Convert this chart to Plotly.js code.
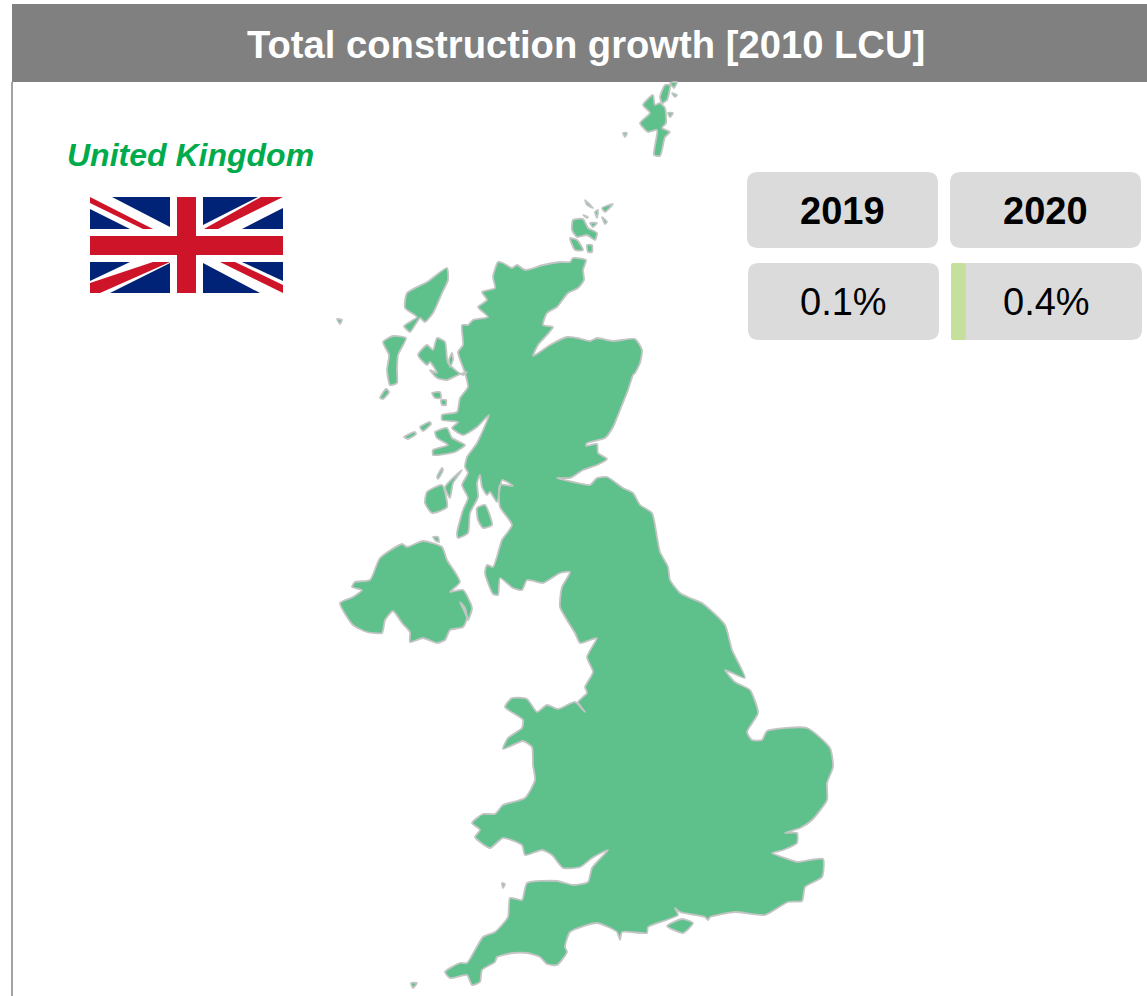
<!DOCTYPE html>
<html>
<head>
<meta charset="utf-8">
<script src="https://cdn.plot.ly/plotly-3.0.1.min.js"></script>
<style>html,body{margin:0;padding:0;background:#fff}#chart{width:1147px;height:996px}</style>
</head>
<body>
<div id="chart"></div>
<script>
const chartTitle = "Total construction growth [2010 LCU]";
const countryName = "United Kingdom";
const years = ["2019", "2020"];
const growthValues = ["0.1%", "0.4%"];

const greatBritain = [[498,262],[503,263],[512,268],[517,265],[525,270],[543,265],[560,262],[570,262],[573,258],[586,260],[583,270],[584,280],[578,288],[568,293],[557,307],[547,313],[543,325],[553,327],[545,337],[538,345],[533,356],[550,345],[567,337],[577,338],[590,341],[597,338],[613,341],[635,339],[642,350],[640,363],[635,373],[633,375],[628,390],[620,410],[613,427],[605,438],[587,443],[586,446],[597,444],[598,453],[607,459],[597,465],[583,470],[570,478],[557,478],[573,482],[590,485],[597,478],[607,477],[623,488],[633,493],[640,505],[652,513],[657,537],[660,552],[668,567],[670,580],[680,593],[690,598],[702,603],[725,625],[732,650],[745,678],[725,670],[735,682],[750,690],[758,713],[747,732],[752,740],[762,740],[767,731],[807,728],[830,748],[833,767],[827,783],[827,800],[812,820],[800,828],[785,833],[797,833],[797,843],[783,850],[772,853],[782,857],[797,862],[823,859],[822,877],[805,887],[802,901],[788,902],[765,915],[735,912],[710,917],[708,920],[705,917],[680,912],[675,908],[678,915],[648,927],[647,933],[622,932],[620,940],[617,932],[597,923],[570,932],[565,947],[567,952],[557,965],[547,964],[540,957],[527,953],[513,953],[497,957],[495,962],[482,970],[480,982],[472,985],[467,975],[450,978],[445,972],[460,963],[467,963],[483,937],[495,932],[508,917],[510,898],[522,900],[527,883],[557,881],[573,885],[588,882],[592,868],[608,850],[603,852],[592,858],[580,867],[563,868],[552,855],[542,850],[525,855],[522,845],[503,838],[490,848],[475,837],[480,830],[472,823],[483,814],[495,814],[503,805],[525,798],[535,780],[533,765],[532,747],[523,741],[503,749],[508,738],[522,728],[523,720],[505,707],[512,698],[527,699],[537,712],[547,705],[558,709],[575,702],[585,712],[578,702],[587,693],[585,687],[593,672],[587,657],[597,638],[590,640],[580,643],[575,633],[560,607],[562,587],[570,572],[560,573],[543,583],[527,580],[522,590],[513,588],[500,578],[498,595],[493,594],[485,573],[487,565],[493,567],[502,540],[512,525],[500,507],[500,485],[513,486],[502,480],[497,502],[490,492],[487,495],[482,487],[480,475],[477,483],[478,497],[470,513],[468,533],[458,538],[457,533],[463,510],[468,498],[462,485],[468,473],[465,467],[467,457],[477,443],[489,415],[477,427],[463,435],[452,428],[458,422],[442,420],[442,415],[457,412],[460,398],[468,387],[465,373],[458,352],[463,345],[462,325],[468,325],[473,320],[488,317],[478,307],[487,300],[482,292],[495,288],[493,277]];
const northernIreland = [[340,603],[353,597],[362,590],[352,587],[355,582],[370,580],[380,558],[402,544],[407,547],[423,541],[442,547],[447,560],[460,582],[450,592],[463,590],[472,608],[468,620],[465,608],[460,602],[467,618],[463,627],[450,630],[445,640],[437,643],[423,638],[410,642],[410,632],[402,623],[393,611],[385,620],[382,633],[367,632],[353,625]];
const lewis = [[447,268],[448,280],[442,293],[433,313],[425,322],[420,318],[410,332],[404,326],[417,317],[405,308],[407,293],[427,282]];
const uist = [[383,342],[393,336],[406,338],[398,355],[397,370],[397,383],[390,385],[387,370],[389,355]];
const barra = [[380,398],[386,389],[389,392],[383,399]];
const skye = [[418,355],[427,345],[433,350],[437,338],[445,342],[448,363],[463,375],[467,372],[458,375],[447,380],[437,378],[430,370],[437,373],[430,362],[427,365]];
const raasay = [[452,353],[453,360],[450,367],[449,360]];
const rum = [[432,393],[440,392],[441,398],[435,398]];
const eigg = [[441,400],[446,400],[446,405],[442,405]];
const tiree = [[404,437],[415,432],[416,434],[408,439]];
const coll = [[420,427],[430,422],[431,424],[423,431]];
const mull = [[435,432],[447,428],[452,438],[465,445],[455,452],[433,455],[433,450],[448,445],[437,438]];
const jura = [[445,487],[462,470],[453,483],[450,498]];
const islay = [[425,503],[427,492],[442,485],[447,507],[432,513]];
const colonsay = [[437,477],[442,468],[443,470],[438,479]];
const arran = [[477,508],[485,505],[492,525],[483,528],[478,520]];
const rathlin = [[433,537],[438,537],[439,542],[436,541]];
const orkneyMain = [[573,220],[583,219],[588,228],[597,233],[595,240],[587,235],[577,237],[572,230]];
const hoy = [[570,238],[577,240],[583,250],[575,250]];
const ronaldsay = [[587,245],[592,245],[592,252],[588,252]];
const orkneyA = [[585,200],[593,208],[587,205]];
const orkneyB = [[602,208],[613,204],[605,212]];
const orkneyC = [[595,212],[598,210],[597,218]];
const orkneyD = [[583,215],[588,217],[587,218]];
const orkneyE = [[590,223],[597,223],[593,227]];
const orkneyF = [[602,217],[607,222],[605,224]];
const shetlandMain = [[640,123],[650,113],[643,105],[653,95],[655,105],[660,103],[665,108],[666,123],[662,128],[670,132],[665,137],[660,156],[654,155],[657,130],[648,132]];
const yell = [[660,97],[665,85],[670,85],[667,100],[662,103]];
const unst = [[670,83],[677,82],[674,88]];
const fetlar = [[672,93],[677,95],[675,97]];
const whalsay = [[668,113],[673,113],[670,117]];
const foula = [[623,133],[627,133],[625,137]];
const stKilda = [[337,319],[342,320],[340,324]];
const lundy = [[502,883],[505,884],[503,888]];
const scilly = [[411,983],[417,983],[413,988]];
const isleOfWight = [[667,926],[682,919],[693,923],[683,933]];

const landParts = [greatBritain, northernIreland, lewis, uist, barra, skye, raasay, rum, eigg, tiree, coll, mull, jura, islay, colonsay, arran, rathlin, orkneyMain, hoy, ronaldsay, orkneyA, orkneyB, orkneyC, orkneyD, orkneyE, orkneyF, shetlandMain, yell, unst, fetlar, whalsay, foula, stKilda, lundy, scilly, isleOfWight];

const traces = landParts.map(p => ({
  type: "scatter", mode: "lines", hoverinfo: "skip", showlegend: false,
  x: p.map(d => d[0]).concat(p[0][0]),
  y: p.map(d => d[1]).concat(p[0][1]),
  fill: "toself", fillcolor: "#5EC08B",
  line: {color: "#C2C5C3", width: 1.8, shape: "spline", smoothing: 0.55}
}));

function rect(x0, y0, x1, y1, fill) {
  return {type: "rect", xref: "x", yref: "y", x0, y0, x1, y1, fillcolor: fill, line: {width: 0}, layer: "below"};
}
function poly(pts, fill) {
  return {type: "path", xref: "x", yref: "y", path: "M" + pts.map(p => p.join(",")).join("L") + "Z", fillcolor: fill, line: {width: 0}, layer: "below"};
}
function rounded(x0, y0, x1, y1, r, fill) {
  return {type: "path", xref: "x", yref: "y", fillcolor: fill, line: {width: 0}, layer: "below",
    path: `M${x0+r},${y0}L${x1-r},${y0}Q${x1},${y0} ${x1},${y0+r}L${x1},${y1-r}Q${x1},${y1} ${x1-r},${y1}L${x0+r},${y1}Q${x0},${y1} ${x0},${y1-r}L${x0},${y0+r}Q${x0},${y0} ${x0+r},${y0}Z`};
}
const BLUE = "#012377", RED = "#CE1429";
const shapes = [
  rect(12, 4, 1147, 82, "#7F807F"),
  rect(11, 82, 13, 996, "#A3A3A3"),
  rounded(747, 172, 938, 248, 11, "#DBDBDB"),
  rounded(950, 172, 1141, 248, 11, "#DBDBDB"),
  rounded(748, 263, 939, 340, 11, "#DBDBDB"),
  rounded(951, 263, 1142, 340, 11, "#DBDBDB"),
  rounded(951, 263, 966, 340, 2, "#C5DF9D"),
  rect(90, 197, 283, 293, "#FFFFFF"),
  poly([[112,197],[170,197],[170,227]], BLUE),
  poly([[90,209],[130,229],[90,229]], BLUE),
  poly([[203,197],[258,197],[203,225]], BLUE),
  poly([[283,208],[242,229],[283,229]], BLUE),
  poly([[90,262],[130,262],[90,281]], BLUE),
  poly([[110,293],[170,263],[170,293]], BLUE),
  poly([[242,262],[283,262],[283,281]], BLUE),
  poly([[203,263],[260,293],[203,293]], BLUE),
  poly([[90,197],[153,229],[143,229],[90,203]], RED),
  poly([[261,197],[283,197],[218,229],[204,229]], RED),
  poly([[90,283],[153,262],[170,262],[100,293],[90,293]], RED),
  poly([[220,262],[235,262],[283,285],[283,293]], RED),
  rect(90, 236, 283, 255, RED),
  rect(177, 197, 196, 293, RED)
];
const cardX = [842, 1045];
const annotations = [
  {x: 586, y: 44, text: "<b>" + chartTitle + "</b>", font: {size: 38.2, color: "#FFFFFF"}},
  {x: 190.5, y: 155, text: "<b><i>" + countryName + "</i></b>", font: {size: 32, color: "#00AB4E"}},
  {x: cardX[0], y: 211, text: "<b>" + years[0] + "</b>", font: {size: 38, color: "#000000"}},
  {x: cardX[1], y: 211, text: "<b>" + years[1] + "</b>", font: {size: 38, color: "#000000"}},
  {x: cardX[0] + 1, y: 302, text: growthValues[0], font: {size: 38, color: "#000000"}},
  {x: cardX[1] + 1, y: 302, text: growthValues[1], font: {size: 38, color: "#000000"}}
].map(a => Object.assign(a, {xref: "x", yref: "y", showarrow: false, xanchor: "center", yanchor: "middle"}));

const layout = {
  width: 1147, height: 996,
  margin: {l: 0, r: 0, t: 0, b: 0},
  paper_bgcolor: "#FFFFFF", plot_bgcolor: "#FFFFFF",
  font: {family: "Liberation Sans, Arial, sans-serif"},
  showlegend: false,
  xaxis: {range: [0, 1147], visible: false, fixedrange: true},
  yaxis: {range: [996, 0], visible: false, fixedrange: true},
  shapes, annotations
};
Plotly.newPlot("chart", traces, layout, {displayModeBar: false, staticPlot: true});
</script>
</body>
</html>
